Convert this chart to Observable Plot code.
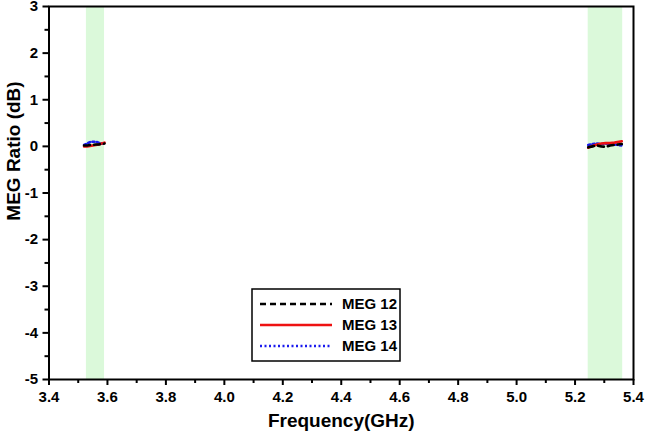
<!DOCTYPE html>
<html><head><meta charset="utf-8">
<script src="https://cdn.jsdelivr.net/npm/d3@7"></script>
<script src="https://cdn.jsdelivr.net/npm/@observablehq/plot@0.6"></script>
<style>
body{margin:0;background:#fff;font-family:"Liberation Sans",Arial,sans-serif;}
#chart{position:relative;width:645px;height:441px;}
#chart svg text{font-weight:bold;}
#chart svg{overflow:visible;}
</style></head>
<body><div id="chart"></div>
<script>
const bands = [[3.528, 3.59], [5.245, 5.363]];
const xLow = [3.52, 3.53, 3.54, 3.55, 3.56, 3.57, 3.58, 3.59];
const xHigh = [5.245, 5.26, 5.275, 5.29, 5.305, 5.32, 5.335, 5.36];
const meg12Low = [0.02, 0.02, 0.03, 0.03, 0.04, 0.04, 0.05, 0.06];
const meg13Low = [0.0, 0.0, 0.01, 0.02, 0.03, 0.04, 0.06, 0.08];
const meg14Low = [0.03, 0.06, 0.09, 0.1, 0.1, 0.08, 0.06, 0.06];
const meg12High = [-0.02, 0.0, 0.02, 0.0, -0.01, 0.02, 0.03, 0.05];
const meg13High = [-0.03, 0.01, 0.04, 0.06, 0.07, 0.07, 0.08, 0.11];
const meg14High = [0.03, 0.05, 0.06, 0.05, 0.06, 0.05, 0.04, 0.02];
const seriesNames = ["MEG 12", "MEG 13", "MEG 14"];
const xMajor = [3.4, 3.6, 3.8, 4.0, 4.2, 4.4, 4.6, 4.8, 5.0, 5.2, 5.4];
const xMinor = [3.5, 3.7, 3.9, 4.1, 4.3, 4.5, 4.7, 4.9, 5.1, 5.3];
const yMajor = [-5, -4, -3, -2, -1, 0, 1, 2, 3];
const yMinor = [-4.5, -3.5, -2.5, -1.5, -0.5, 0.5, 1.5, 2.5];

const colors = {"MEG 12": "#000000", "MEG 13": "#ee1111", "MEG 14": "#1a1aee"};
const dashes = {"MEG 12": "6,4", "MEG 13": null, "MEG 14": "2,2.5"};

const rows = [];
const segs = [[xLow, [meg12Low, meg13Low, meg14Low], "low"], [xHigh, [meg12High, meg13High, meg14High], "high"]];
for (const [xs, ser, seg] of segs) {
  ser.forEach((vals, i) => {
    vals.forEach((v, j) => rows.push({x: xs[j], y: v, series: seriesNames[i], z: seriesNames[i] + seg}));
  });
}
const bandRows = bands.map(([a, b]) => ({x1: a, x2: b}));

const lineMarks = seriesNames.slice().reverse().map(name =>
  Plot.line(rows.filter(r => r.series === name), {
    x: "x", y: "y", z: "z", stroke: colors[name], strokeWidth: 2.6,
    strokeDasharray: dashes[name]
  })
);

const plot = Plot.plot({
  width: 645, height: 441,
  marginLeft: 48.5, marginRight: 12, marginTop: 6, marginBottom: 62,
  x: {domain: [3.4, 5.4]},
  y: {domain: [-5, 3]},
  style: {fontFamily: "'Liberation Sans', Arial, sans-serif", fontSize: "15px", color: "#000", overflow: "visible"},
  marks: [
    Plot.rectY(bandRows, {x1: "x1", x2: "x2", y1: -5, y2: 3, fill: "#dbf9da"}),
    ...lineMarks,
    Plot.frame({stroke: "#000", strokeWidth: 2}),
    Plot.axisX(xMinor, {tickSize: 4, text: null, strokeWidth: 2, label: null}),
    Plot.axisX(xMajor, {tickSize: 6, strokeWidth: 2, tickFormat: d3.format(".1f"), tickPadding: 6, fontSize: 15, label: null}),
    Plot.axisY(yMinor, {tickSize: 4, text: null, strokeWidth: 2, label: null}),
    Plot.axisY(yMajor, {tickSize: 6, strokeWidth: 2, tickFormat: d => d3.format("d")(d).replace("−", "-"), tickPadding: 5, fontSize: 15, label: null}),
    Plot.text(["Frequency(GHz)"], {frameAnchor: "bottom", dy: 47, fontSize: 19, fill: "#000"}),
    Plot.text(["MEG Ratio (dB)"], {frameAnchor: "left", textAnchor: "middle", dx: -35, dy: -42, rotate: -90, fontSize: 19, fill: "#000"})
  ]
});
document.getElementById("chart").appendChild(plot);

// legend inside the plot area
const svg = d3.select(plot);
const lg = svg.append("g").attr("transform", "translate(252,289)");
lg.append("rect").attr("width", 148).attr("height", 72).attr("fill", "#fff").attr("stroke", "#000").attr("stroke-width", 1.5);
seriesNames.forEach((name, i) => {
  const yy = 15 + i * 21;
  lg.append("line").attr("x1", 8).attr("x2", 80).attr("y1", yy).attr("y2", yy)
    .attr("stroke", colors[name]).attr("stroke-width", 2.6)
    .attr("stroke-dasharray", dashes[name]);
  lg.append("text").attr("x", 90).attr("y", yy).attr("dy", "0.35em")
    .attr("text-anchor", "start")
    .attr("font-size", 15).attr("font-weight", "bold").attr("fill", "#000")
    .attr("font-family", "'Liberation Sans', Arial, sans-serif").text(name);
});
</script>
</body></html>
